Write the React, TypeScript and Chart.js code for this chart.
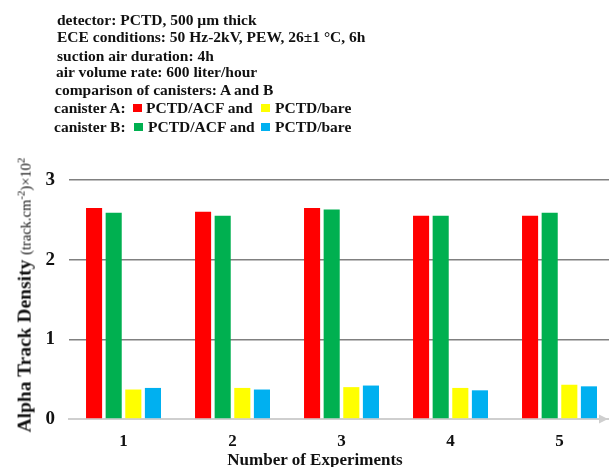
import React, { useEffect, useRef } from "react";
import { Chart, registerables } from "chart.js";

Chart.register(...registerables);

const categories = ["1", "2", "3", "4", "5"];
const canisterA_ACF = [2.65, 2.6, 2.65, 2.55, 2.55];
const canisterB_ACF = [2.59, 2.55, 2.63, 2.55, 2.59];
const canisterA_bare = [0.37, 0.39, 0.4, 0.39, 0.43];
const canisterB_bare = [0.39, 0.37, 0.42, 0.36, 0.41];
const yTicks = [0, 1, 2, 3];

const RED = "#ff0000";
const GREEN = "#00b050";
const YELLOW = "#ffff00";
const BLUE = "#00b0f0";
const SERIF = "'Liberation Serif', 'Times New Roman', serif";

const headerLines = [
  { text: "detector: PCTD, 500 µm thick", x: 57, y: 20 },
  { text: "ECE conditions: 50 Hz-2kV, PEW, 26±1 °C, 6h", x: 57, y: 37 },
  { text: "suction air duration: 4h", x: 57, y: 56 },
  { text: "air volume rate: 600 liter/hour", x: 56, y: 72 },
  { text: "comparison of canisters: A and B", x: 55, y: 90 },
];

const arrowPlugin = {
  id: "axisArrow",
  afterDraw(chart: any) {
    const { ctx, chartArea } = chart;
    const y = chartArea.bottom;
    ctx.save();
    ctx.fillStyle = "#cfcfcf";
    ctx.beginPath();
    ctx.moveTo(608, y);
    ctx.lineTo(599, y - 4.5);
    ctx.lineTo(599, y + 4.5);
    ctx.closePath();
    ctx.fill();
    ctx.restore();
  },
};

function ChartCanvas() {
  const ref = useRef<HTMLCanvasElement | null>(null);
  useEffect(() => {
    if (!ref.current) return;
    const chart = new Chart(ref.current, {
      type: "bar",
      data: {
        labels: categories,
        datasets: [
          { label: "canister A: PCTD/ACF", data: canisterA_ACF, backgroundColor: RED },
          { label: "canister B: PCTD/ACF", data: canisterB_ACF, backgroundColor: GREEN },
          { label: "canister A: PCTD/bare", data: canisterA_bare, backgroundColor: YELLOW },
          { label: "canister B: PCTD/bare", data: canisterB_bare, backgroundColor: BLUE },
        ].map((d) => ({ ...d, borderWidth: 0, barPercentage: 0.82, categoryPercentage: 0.72 })),
      },
      options: {
        responsive: false,
        animation: false,
        layout: { padding: { top: 180, left: 0, right: 0, bottom: 0 } },
        plugins: { legend: { display: false }, tooltip: { enabled: false } },
        scales: {
          x: {
            grid: { display: false, drawTicks: false },
            border: { display: true, color: "#cfcfcf", width: 2 },
            ticks: {
              color: "#111",
              padding: 12,
              font: { family: SERIF, size: 17, weight: "bold" },
            },
            afterFit: (s: any) => {
              s.height = 48;
            },
          },
          y: {
            min: 0,
            max: 3,
            afterBuildTicks: (s: any) => {
              s.ticks = yTicks.map((v) => ({ value: v }));
            },
            grid: {
              color: (c: any) => (c.tick && c.tick.value === 0 ? "rgba(0,0,0,0)" : "#808080"),
              lineWidth: 1.6,
              drawTicks: false,
            },
            border: { display: false },
            ticks: {
              color: "#111",
              padding: 14,
              font: { family: SERIF, size: 19, weight: "bold" },
            },
            afterFit: (s: any) => {
              s.width = 69;
            },
          },
        },
      },
      plugins: [arrowPlugin],
    } as any);
    return () => chart.destroy();
  }, []);
  return <canvas ref={ref} width={614} height={467} style={{ display: "block" }} />;
}

const textStyle: React.CSSProperties = {
  position: "absolute",
  fontFamily: SERIF,
  fontWeight: "bold",
  fontSize: 15.5,
  lineHeight: "18px",
  whiteSpace: "nowrap",
  color: "#111",
};

function Square({ x, y, color }: { x: number; y: number; color: string }) {
  return <div style={{ position: "absolute", left: x, top: y - 4, width: 9, height: 8, background: color }} />;
}

function Piece({ text, x, y }: { text: string; x: number; y: number }) {
  return <div style={{ ...textStyle, left: x, top: y - 9 }}>{text}</div>;
}

export default function App() {
  return (
    <div
      style={{
        position: "fixed",
        left: 0,
        top: 0,
        width: 609,
        height: 467,
        overflow: "hidden",
        background: "#fff",
      }}
    >
      <ChartCanvas />
      {headerLines.map((l, i) => (
        <Piece key={i} text={l.text} x={l.x} y={l.y} />
      ))}
      <Piece text="canister A:" x={54} y={108} />
      <Square x={133} y={108} color={RED} />
      <Piece text="PCTD/ACF and" x={146} y={108} />
      <Square x={261} y={108} color={YELLOW} />
      <Piece text="PCTD/bare" x={275} y={108} />
      <Piece text="canister B:" x={54} y={127} />
      <Square x={134} y={127} color={GREEN} />
      <Piece text="PCTD/ACF and" x={148} y={127} />
      <Square x={261} y={127} color={BLUE} />
      <Piece text="PCTD/bare" x={275} y={127} />
      <div
        style={{
          position: "absolute",
          left: 23,
          top: 295,
          transform: "translate(-50%, -50%) rotate(-90deg)",
          whiteSpace: "nowrap",
          fontFamily: SERIF,
          color: "#111",
          lineHeight: "22px",
        }}
      >
        <span style={{ fontWeight: "bold", fontSize: 19.5 }}>Alpha Track Density </span>
        <span style={{ fontSize: 14.5 }}>
          (track.cm<sup style={{ fontSize: 11 }}>-2</sup>)×10<sup style={{ fontSize: 11 }}>2</sup>
        </span>
      </div>
      <div
        style={{
          position: "absolute",
          left: 315,
          top: 460,
          transform: "translate(-50%, -50%)",
          whiteSpace: "nowrap",
          fontFamily: SERIF,
          fontWeight: "bold",
          fontSize: 17,
          color: "#111",
        }}
      >
        Number of Experiments
      </div>
    </div>
  );
}
